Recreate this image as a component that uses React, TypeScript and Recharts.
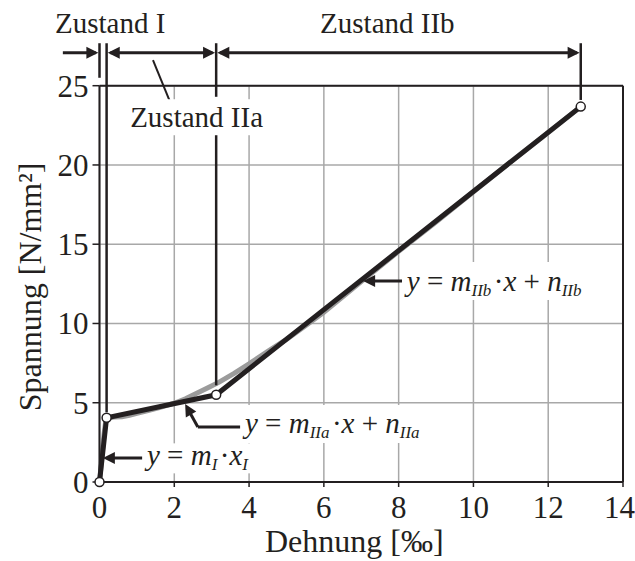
import React from 'react';
import { ComposedChart, Line, XAxis, YAxis, CartesianGrid, ReferenceLine, ReferenceDot } from 'recharts';

const FONT = '"Liberation Serif", "Times New Roman", Times, serif';
const INK = '#231f20';
const GRID = '#a8a8a8';

// axis ticks
const xTicks = [0, 2, 4, 6, 8, 10, 12, 14];
const yTicks = [0, 5, 10, 15, 20, 25];

// measured curve (grey)
const measuredX = [0, 0.06, 0.12, 0.17, 0.25, 0.4, 0.6, 0.8, 1.0, 1.3, 1.6, 2.0, 2.3, 2.6, 2.9, 3.2, 3.6, 4.0, 4.5, 5.0, 5.5, 6.0, 7.0, 8.0, 9.0, 10.0, 11.0, 12.0, 12.87];
const measuredY = [0, 1.5, 3.0, 3.9, 4.05, 4.1, 4.12, 4.2, 4.33, 4.5, 4.7, 4.97, 5.25, 5.6, 5.95, 6.3, 6.85, 7.45, 8.25, 9.0, 9.85, 10.7, 12.65, 14.55, 16.4, 18.3, 20.2, 22.05, 23.68];

// tri-linear fit (black)
const fitX = [0, 0.19, 3.12, 12.87];
const fitY = [0, 4.05, 5.5, 23.68];

// state boundaries and annotation anchors (data coordinates)
const bounds = [0, 0.19, 3.12, 12.87];
const arrowRowY = 27.08;
const markerTopY = 27.68;

const measured = measuredX.map((x, i) => ({ x, y: measuredY[i] }));
const fit = fitX.map((x, i) => ({ x, y: fitY[i] }));

const Arrow = (props: any) => {
  const { cx, cy, angle } = props;
  if (cx == null || cy == null) return null;
  const L = 12, W = 6;
  return (
    <polygon
      points={`0,0 ${-L},${-W} ${-L},${W}`}
      transform={`translate(${cx} ${cy}) rotate(${angle})`}
      fill={INK}
    />
  );
};

const arrowShape = (angle: number) => (p: any) => <Arrow cx={p.cx} cy={p.cy} angle={angle} />;

const boxText = (content: React.ReactNode, w: number, h: number, up: number, italic = false, size = 29) => (p: any) => {
  const { cx, cy } = p;
  if (cx == null || cy == null) return null;
  return (
    <g>
      {w > 0 && <rect x={cx - 2} y={cy - up} width={w} height={h} fill="#fff" />}
      <text x={cx} y={cy} fontFamily={FONT} fontSize={size} fill={INK} fontStyle={italic ? 'italic' : 'normal'}>
        {content}
      </text>
    </g>
  );
};

const SUB = 17;
const sub = (s: string) => (
  <>
    <tspan fontSize={SUB} dy={5}>{s}</tspan>
    <tspan dy={-5}>{'\u200A'}</tspan>
  </>
);
const op = (s: string) => <tspan fontStyle="normal">{s}</tspan>;

const eqI = (
  <>
    y{op(' = ')}m{sub('I')}{op('·')}x{sub('I')}
  </>
);
const eqIIa = (
  <>
    y{op(' = ')}m{sub('IIa')}{op('·')}x{op(' + ')}n{sub('IIa')}
  </>
);
const eqIIb = (
  <>
    y{op(' = ')}m{sub('IIb')}{op('·')}x{op(' + ')}n{sub('IIb')}
  </>
);

const YLabel = (props: any) => {
  const vb = props.viewBox || {};
  const cx = 41;
  const cy = vb.height ? vb.y + vb.height / 2 + 3 : 287;
  return (
    <text x={cx} y={cy} transform={`rotate(-90 ${cx} ${cy})`} textAnchor="middle" fontFamily={FONT} fontSize={32} fill={INK}>
      Spannung [N/mm²]
    </text>
  );
};

const XLabel = (props: any) => {
  const vb = props.viewBox || {};
  const cx = vb.width ? vb.x + vb.width / 2 - 7 : 354;
  const cy = 552;
  return (
    <text x={cx} y={cy} textAnchor="middle" fontFamily={FONT} fontSize={32} fill={INK}>
      Dehnung [‰]
    </text>
  );
};

const tickStyle = { fill: INK, fontSize: 31, fontFamily: FONT };

export default function App() {
  return (
    <div style={{ position: 'absolute', left: 0, top: 0, width: 635, height: 561, background: '#fff' }}>
      <ComposedChart width={635} height={561} margin={{ top: 85.7, right: 12, bottom: 0, left: 0 }}>
        <CartesianGrid stroke={GRID} strokeWidth={1.5} />
        <XAxis
          type="number"
          dataKey="x"
          domain={[0, 14]}
          ticks={xTicks}
          height={79}
          axisLine={{ stroke: INK, strokeWidth: 2 }}
          tickLine={{ stroke: INK, strokeWidth: 1.5 }}
          tickSize={5}
          tickMargin={9}
          tick={tickStyle}
          label={<XLabel />}
        />
        <YAxis
          type="number"
          domain={[0, 25]}
          ticks={yTicks}
          width={99.5}
          axisLine={{ stroke: INK, strokeWidth: 2 }}
          tickLine={{ stroke: INK, strokeWidth: 1.5 }}
          tickSize={7}
          tickMargin={4}
          tick={tickStyle}
          label={<YLabel />}
        />
        <ReferenceLine y={25} stroke={INK} strokeWidth={2} />
        <ReferenceLine x={14} stroke={INK} strokeWidth={2} />

        <Line data={measured} dataKey="y" type="linear" stroke="#9b9b9b" strokeWidth={5} dot={false} isAnimationActive={false} />
        <Line
          data={fit}
          dataKey="y"
          type="linear"
          stroke={INK}
          strokeWidth={5}
          dot={{ r: 4.5, fill: '#fff', stroke: INK, strokeWidth: 1.5 }}
          isAnimationActive={false}
        />

        {/* state boundary markers */}
        <ReferenceLine segment={[{ x: bounds[0], y: markerTopY }, { x: bounds[0], y: 25.5 }]} stroke={INK} strokeWidth={2.5} ifOverflow="visible" />
        <ReferenceLine segment={[{ x: bounds[1], y: markerTopY }, { x: bounds[1], y: 4.4 }]} stroke={INK} strokeWidth={2.5} ifOverflow="visible" />
        <ReferenceLine segment={[{ x: bounds[2], y: markerTopY }, { x: bounds[2], y: 24.3 }]} stroke={INK} strokeWidth={2.5} ifOverflow="visible" />
        <ReferenceLine segment={[{ x: bounds[2], y: 22.0 }, { x: bounds[2], y: 6.1 }]} stroke={INK} strokeWidth={2.5} ifOverflow="visible" />
        <ReferenceLine segment={[{ x: bounds[3], y: markerTopY }, { x: bounds[3], y: 24.1 }]} stroke={INK} strokeWidth={2.5} ifOverflow="visible" />

        {/* arrow row */}
        <ReferenceLine segment={[{ x: -0.98, y: arrowRowY }, { x: bounds[0] - 0.1, y: arrowRowY }]} stroke={INK} strokeWidth={3} ifOverflow="visible" />
        <ReferenceLine segment={[{ x: bounds[1] + 0.1, y: arrowRowY }, { x: bounds[2] - 0.1, y: arrowRowY }]} stroke={INK} strokeWidth={3} ifOverflow="visible" />
        <ReferenceLine segment={[{ x: bounds[2] + 0.1, y: arrowRowY }, { x: bounds[3] - 0.1, y: arrowRowY }]} stroke={INK} strokeWidth={3} ifOverflow="visible" />
        <ReferenceDot x={bounds[0] - 0.03} y={arrowRowY} r={0} ifOverflow="visible" shape={arrowShape(0)} />
        <ReferenceDot x={bounds[1] + 0.03} y={arrowRowY} r={0} ifOverflow="visible" shape={arrowShape(180)} />
        <ReferenceDot x={bounds[2] - 0.03} y={arrowRowY} r={0} ifOverflow="visible" shape={arrowShape(0)} />
        <ReferenceDot x={bounds[2] + 0.03} y={arrowRowY} r={0} ifOverflow="visible" shape={arrowShape(180)} />
        <ReferenceDot x={bounds[3] - 0.03} y={arrowRowY} r={0} ifOverflow="visible" shape={arrowShape(0)} />

        {/* state labels */}
        <ReferenceDot x={-1.19} y={28.31} r={0} ifOverflow="visible" shape={boxText('Zustand I', 0, 0, 0)} />
        <ReferenceDot x={5.9} y={28.31} r={0} ifOverflow="visible" shape={boxText('Zustand IIb', 0, 0, 0)} />
        <ReferenceDot x={0.82} y={22.38} r={0} ifOverflow="visible" shape={boxText('Zustand IIa', 138, 36, 28)} />
        <ReferenceLine segment={[{ x: 1.43, y: 26.62 }, { x: 1.89, y: 23.97 }]} stroke={INK} strokeWidth={2} ifOverflow="visible" />

        {/* equation leaders */}
        <ReferenceLine segment={[{ x: 7.2, y: 12.68 }, { x: 8.09, y: 12.68 }]} stroke={INK} strokeWidth={3} ifOverflow="visible" />
        <ReferenceDot x={7.05} y={12.68} r={0} ifOverflow="visible" shape={arrowShape(180)} />
        <ReferenceLine segment={[{ x: 2.36, y: 4.62 }, { x: 2.63, y: 3.47 }]} stroke={INK} strokeWidth={3} ifOverflow="visible" />
        <ReferenceLine segment={[{ x: 2.63, y: 3.47 }, { x: 3.76, y: 3.47 }]} stroke={INK} strokeWidth={3} ifOverflow="visible" />
        <ReferenceDot x={2.29} y={4.92} r={0} ifOverflow="visible" shape={arrowShape(-119.5)} />
        <ReferenceLine segment={[{ x: 0.24, y: 1.51 }, { x: 1.14, y: 1.51 }]} stroke={INK} strokeWidth={3} ifOverflow="visible" />
        <ReferenceDot x={0.09} y={1.51} r={0} ifOverflow="visible" shape={arrowShape(180)} />

        {/* equations */}
        <ReferenceDot x={8.22} y={12.05} r={0} ifOverflow="visible" shape={boxText(eqIIb, 178, 38, 29, true)} />
        <ReferenceDot x={3.89} y={3.09} r={0} ifOverflow="visible" shape={boxText(eqIIa, 192, 38, 28, true)} />
        <ReferenceDot x={1.27} y={1.05} r={0} ifOverflow="visible" shape={boxText(eqI, 110, 30, 22, true)} />
      </ComposedChart>
    </div>
  );
}
